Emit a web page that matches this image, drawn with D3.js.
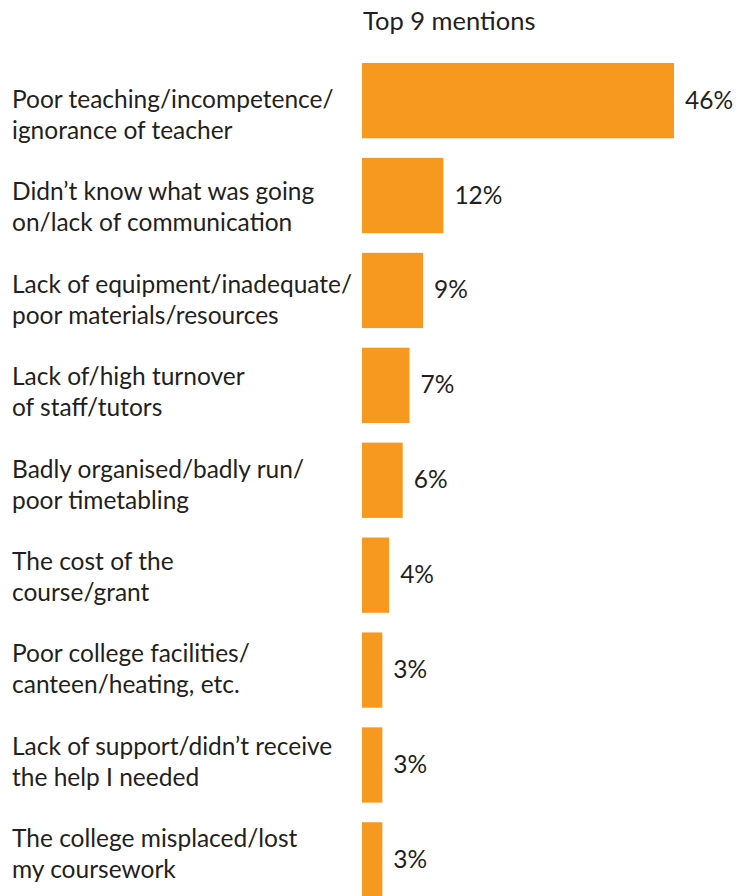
<!DOCTYPE html>
<html>
<head>
<meta charset="utf-8">
<script src="https://cdn.jsdelivr.net/npm/d3@7/dist/d3.min.js"></script>
<style>
  html, body { margin: 0; padding: 0; background: #ffffff; }
  svg { display: block; }
  text { font-family: Lato, "Open Sans", sans-serif; fill: #231f20; }
</style>
</head>
<body>
<svg id="chart" width="736" height="896"></svg>
<script>
// Reasons given, each split over two lines
const categories = [
  "Poor teaching/incompetence/|ignorance of teacher",
  "Didn\u2019t know what was going|on/lack of communication",
  "Lack of equipment/inadequate/|poor materials/resources",
  "Lack of/high turnover|of staff/tutors",
  "Badly organised/badly run/|poor timetabling",
  "The cost of the|course/grant",
  "Poor college facilities/|canteen/heating, etc.",
  "Lack of support/didn\u2019t receive|the help I needed",
  "The college misplaced/lost|my coursework"
];
// Share of mentions, per cent
const values = [46, 12, 9, 7, 6, 4, 3, 3, 3];
const title = "Top 9 mentions";

const data = categories.map((c, i) => ({ key: c, lines: c.split("|"), value: values[i] }));

const svg = d3.select("#chart");
const fontSize = 24.5;
const barColor = "#f7981f";

const x = d3.scaleLinear().domain([0, 46]).range([362, 674]);
const y = d3.scaleBand().domain(categories).range([63, 897.5]).paddingInner(0.207).paddingOuter(0);
// Baseline of the first line of each category label
const yLabel = d3.scalePoint().domain(categories).range([108, 847]);

svg.append("text")
  .attr("x", 363)
  .attr("y", 30)
  .attr("font-size", 25.5)
  .text(title);

svg.append("g").selectAll("rect")
  .data(data)
  .join("rect")
  .attr("x", x(0))
  .attr("y", d => y(d.key))
  .attr("width", d => x(d.value) - x(0))
  .attr("height", y.bandwidth())
  .attr("fill", barColor);

svg.append("g").selectAll("text")
  .data(data)
  .join("text")
  .attr("x", d => x(d.value) + 11)
  .attr("y", d => y(d.key) + y.bandwidth() / 2 + 8)
  .attr("font-size", fontSize)
  .text(d => d.value + "%");

const labels = svg.append("g").selectAll("text")
  .data(data)
  .join("text")
  .attr("x", 12)
  .attr("y", d => yLabel(d.key))
  .attr("font-size", fontSize);

labels.selectAll("tspan")
  .data(d => d.lines)
  .join("tspan")
  .attr("x", 12)
  .attr("dy", (d, i) => i === 0 ? 0 : 31)
  .text(d => d);
</script>
</body>
</html>
